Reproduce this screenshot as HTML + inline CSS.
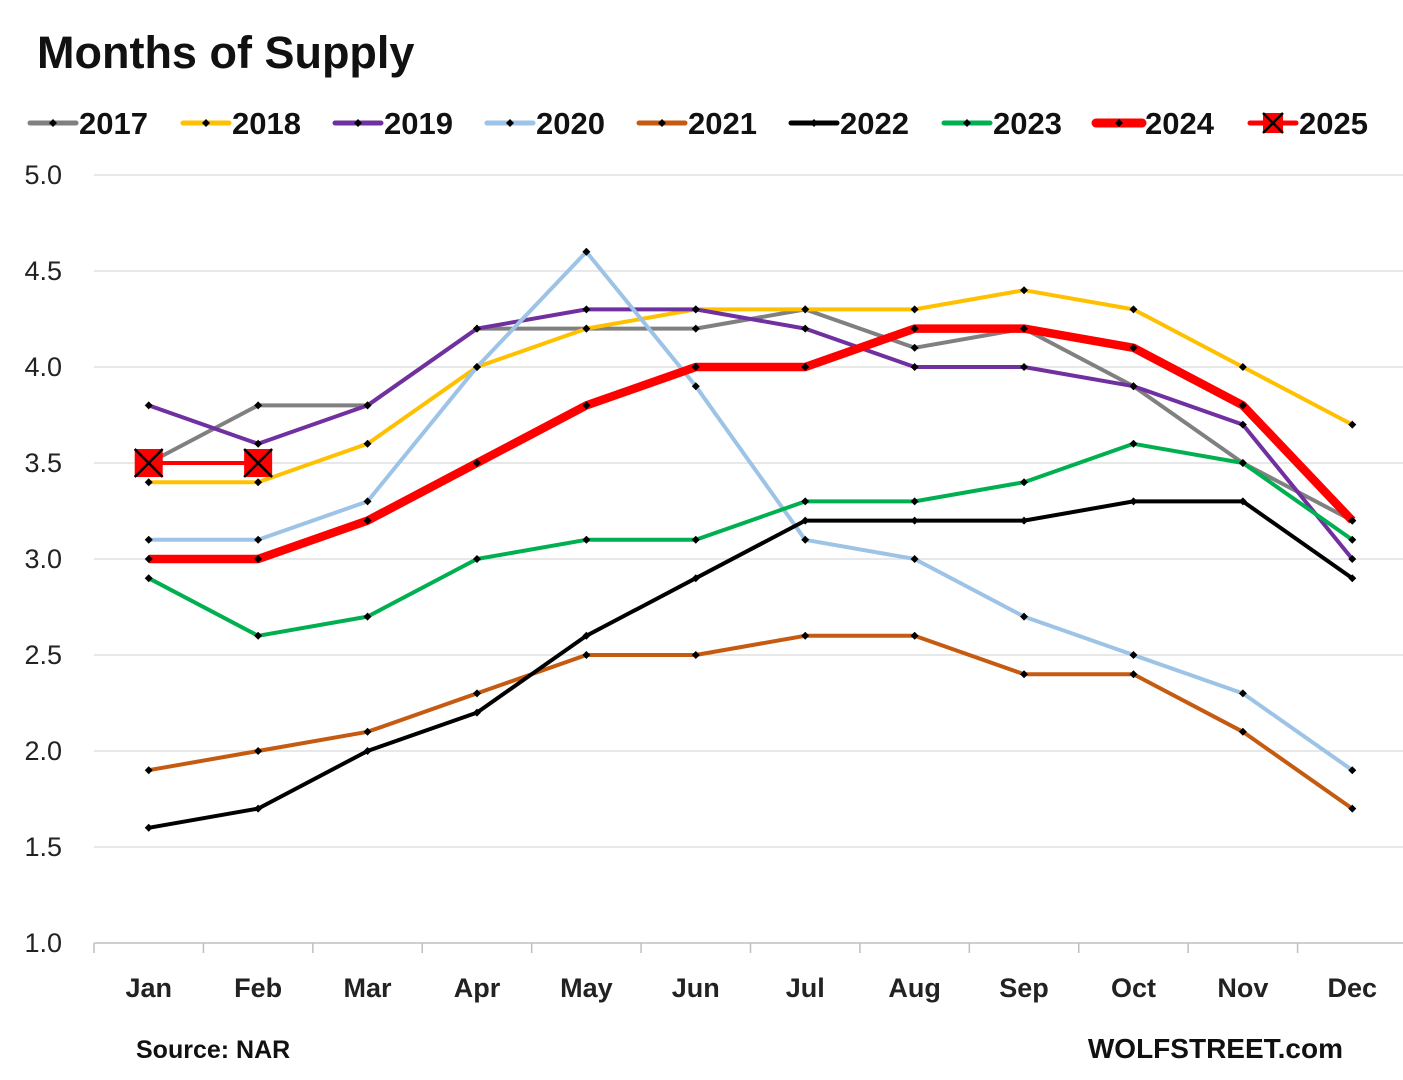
<!DOCTYPE html>
<html><head><meta charset="utf-8"><style>
body{margin:0;background:#fff;}
svg{display:block;font-family:"Liberation Sans",Arial,sans-serif;}
</style></head><body>
<svg id="chart" width="1403" height="1080" viewBox="0 0 1403 1080">
<text x="37" y="68" font-size="45" font-weight="bold" fill="#111">Months of Supply</text>
<g id="grid"></g><g id="axes"></g><g id="series"></g><g id="legend"></g>
<text x="136" y="1058" font-size="25" font-weight="bold" fill="#111">Source: NAR</text>
<text x="1343" y="1058" font-size="28" font-weight="bold" fill="#111" text-anchor="end">WOLFSTREET.com</text>
</svg>
<script>
const months=["Jan","Feb","Mar","Apr","May","Jun","Jul","Aug","Sep","Oct","Nov","Dec"];
const yTicks=[1.0,1.5,2.0,2.5,3.0,3.5,4.0,4.5,5.0];
const seriesNames=["2017","2018","2019","2020","2021","2022","2023","2024","2025"];
const seriesColors=["#808080","#FFC000","#7030A0","#9DC3E6","#C55A11","#000000","#00B050","#FF0000","#FF0000"];
const s2017=[3.5,3.8,3.8,4.2,4.2,4.2,4.3,4.1,4.2,3.9,3.5,3.2];
const s2018=[3.4,3.4,3.6,4.0,4.2,4.3,4.3,4.3,4.4,4.3,4.0,3.7];
const s2019=[3.8,3.6,3.8,4.2,4.3,4.3,4.2,4.0,4.0,3.9,3.7,3.0];
const s2020=[3.1,3.1,3.3,4.0,4.6,3.9,3.1,3.0,2.7,2.5,2.3,1.9];
const s2021=[1.9,2.0,2.1,2.3,2.5,2.5,2.6,2.6,2.4,2.4,2.1,1.7];
const s2022=[1.6,1.7,2.0,2.2,2.6,2.9,3.2,3.2,3.2,3.3,3.3,2.9];
const s2023=[2.9,2.6,2.7,3.0,3.1,3.1,3.3,3.3,3.4,3.6,3.5,3.1];
const s2024=[3.0,3.0,3.2,3.5,3.8,4.0,4.0,4.2,4.2,4.1,3.8,3.2];
const s2025=[3.5,3.5];
const allSeries=[s2017,s2018,s2019,s2020,s2021,s2022,s2023,s2024,s2025];
const NS="http://www.w3.org/2000/svg";
const X0=94,X1=1407,Y0=943,Y1=175,YMIN=1,YMAX=5;
const bw=(X1-X0)/12;
const x=i=>X0+bw*(i+0.5);
const y=v=>Y0-(v-YMIN)/(YMAX-YMIN)*(Y0-Y1);
function mk(tag,attrs,parent){const e=document.createElementNS(NS,tag);for(const k in attrs)e.setAttribute(k,attrs[k]);parent.appendChild(e);return e;}
const grid=document.getElementById('grid'),axes=document.getElementById('axes'),ser=document.getElementById('series'),leg=document.getElementById('legend');
yTicks.forEach(t=>{
 if(t>YMIN){const l=mk('line',{x1:X0,x2:1403,y1:y(t),y2:y(t),stroke:'#d9d9d9','stroke-width':1.3},grid);
 
 }
 const tx=mk('text',{x:62,y:y(t)+9,'font-size':27,'text-anchor':'end',fill:'#222'},axes);tx.textContent=t.toFixed(1);
 
 
});
const ax=mk('line',{x1:X0,x2:1403,y1:Y0,y2:Y0,stroke:'#bfbfbf','stroke-width':1.5},axes);


for(let i=0;i<12;i++){const tk=mk('line',{x1:X0+bw*i,x2:X0+bw*i,y1:Y0,y2:Y0+10,stroke:'#bfbfbf','stroke-width':1.5},axes);
 
 }
months.forEach((m,i)=>{const t=mk('text',{x:x(i),y:997,'font-size':27,'font-weight':'bold','text-anchor':'middle',fill:'#222'},axes);t.textContent=m;
 
 });
function diamond(cx,cy,p){const d=mk('path',{d:`M${cx} ${cy-4}L${cx+4} ${cy}L${cx} ${cy+4}L${cx-4} ${cy}Z`,fill:'#000'},p);
 
 }
function xbox(cx,cy,p,s){const g=mk('g',{},p);
 
 
 mk('rect',{x:cx-s,y:cy-s,width:2*s,height:2*s,fill:'#FF0000'},g);
 mk('path',{d:`M${cx-s} ${cy-s}L${cx+s} ${cy+s}M${cx+s} ${cy-s}L${cx-s} ${cy+s}`,stroke:'#000','stroke-width':2.5},g);}
allSeries.forEach((vals,si)=>{
 const w=si===7?8.5:4;
 const g=mk('g',{},ser);
 
 
 const p=mk('polyline',{points:vals.map((v,i)=>x(i)+','+y(v)).join(' '),fill:'none',stroke:seriesColors[si],'stroke-width':w,'stroke-linejoin':'round'},g);
 
 
 vals.forEach((v,i)=>{ if(si===8) xbox(x(i),y(v),g,14); else diamond(x(i),y(v),g);});
});
const legX=[30,183,335,487,639,791,944,1096,1250];
seriesNames.forEach((n,i)=>{
 const g=mk('g',{},leg);
 
 
 const ly=123,x0=legX[i];
 mk('line',{x1:x0,x2:x0+46,y1:ly,y2:ly,stroke:seriesColors[i],'stroke-width':i===7?9:5,'stroke-linecap':'round'},g);
 if(i===8) xbox(x0+23,ly,g,10); else diamond(x0+23,ly,g);
 const t=mk('text',{x:x0+49,y:ly+11,'font-size':31,'font-weight':'bold',fill:'#111'},g);t.textContent=n;
});
</script>
</body></html>
